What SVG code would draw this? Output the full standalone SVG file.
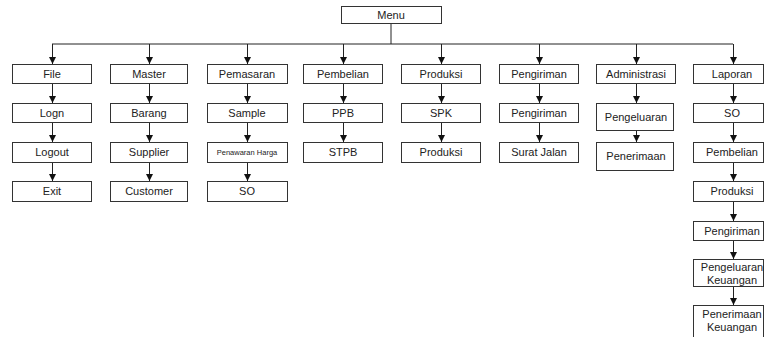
<svg xmlns="http://www.w3.org/2000/svg" width="765" height="337" viewBox="0 0 765 337">
<defs>
<marker id="ah" viewBox="0 0 8 8" refX="8" refY="4" markerWidth="7" markerHeight="7" orient="auto" markerUnits="userSpaceOnUse">
<path d="M0,0 L8,4 L0,8 Z" fill="#111"/>
</marker>
<style>
rect{fill:#fff;stroke:#333;stroke-width:1}
text{font-family:"Liberation Sans",Arial,sans-serif;font-size:11px;fill:#222;text-anchor:middle}
.sm{font-size:7.5px}
#connectors path{stroke:#222;stroke-width:1;fill:none}
.a{marker-end:url(#ah)}
</style>
</defs>
<rect x="0" y="0" width="765" height="337" style="fill:#fff;stroke:none"/>
<g id="connectors">
<path d="M391,24V44"/>
<path d="M52,44H733"/>
<path class="a" d="M52.5,44V64"/><path class="a" d="M149.5,44V64"/><path class="a" d="M247.5,44V64"/><path class="a" d="M343.5,44V64"/>
<path class="a" d="M441.5,44V64"/><path class="a" d="M539.5,44V64"/><path class="a" d="M636.5,44V64"/><path class="a" d="M733.5,44V64"/>
<path class="a" d="M52.5,83V103"/><path class="a" d="M52.5,123V142"/><path class="a" d="M52.5,162V181"/>
<path class="a" d="M149.5,83V103"/><path class="a" d="M149.5,123V142"/><path class="a" d="M149.5,162V181"/>
<path class="a" d="M247.5,83V103"/><path class="a" d="M247.5,123V142"/><path class="a" d="M247.5,162V181"/>
<path class="a" d="M343.5,83V103"/><path class="a" d="M343.5,123V142"/>
<path class="a" d="M441.5,83V103"/><path class="a" d="M441.5,123V142"/>
<path class="a" d="M539.5,83V103"/><path class="a" d="M539.5,123V142"/>
<path class="a" d="M636.5,83V103"/><path class="a" d="M636.5,130V142"/>
<path class="a" d="M733.5,83V103"/><path class="a" d="M733.5,123V142"/><path class="a" d="M733.5,162V181"/><path class="a" d="M733.5,201V221"/><path class="a" d="M733.5,240V259"/><path class="a" d="M733.5,286V305"/>
</g>
<g id="menu"><rect x="341.5" y="6.5" width="100" height="17"/><text x="391" y="19">Menu</text></g>
<g id="file"><rect x="12.5" y="64.5" width="79" height="19"/><text x="52" y="78">File</text></g>
<g id="logn"><rect x="12.5" y="103.5" width="79" height="19"/><text x="52" y="117">Logn</text></g>
<g id="logout"><rect x="12.5" y="142.5" width="79" height="20"/><text x="52" y="156">Logout</text></g>
<g id="exit"><rect x="12.5" y="181.5" width="79" height="20"/><text x="52" y="195">Exit</text></g>
<g id="master"><rect x="110.5" y="64.5" width="77" height="19"/><text x="149" y="78">Master</text></g>
<g id="barang"><rect x="110.5" y="103.5" width="77" height="19"/><text x="149" y="117">Barang</text></g>
<g id="supplier"><rect x="110.5" y="142.5" width="77" height="20"/><text x="149" y="156">Supplier</text></g>
<g id="customer"><rect x="110.5" y="181.5" width="77" height="20"/><text x="149" y="195">Customer</text></g>
<g id="pemasaran"><rect x="207.5" y="64.5" width="80" height="19"/><text x="247" y="78">Pemasaran</text></g>
<g id="sample"><rect x="207.5" y="103.5" width="80" height="19"/><text x="247" y="117">Sample</text></g>
<g id="penawaran"><rect x="207.5" y="142.5" width="80" height="20"/><text class="sm" x="247" y="155">Penawaran Harga</text></g>
<g id="so1"><rect x="207.5" y="181.5" width="80" height="20"/><text x="247" y="195">SO</text></g>
<g id="pembelian"><rect x="303.5" y="64.5" width="79" height="19"/><text x="343" y="78">Pembelian</text></g>
<g id="ppb"><rect x="303.5" y="103.5" width="79" height="19"/><text x="343" y="117">PPB</text></g>
<g id="stpb"><rect x="303.5" y="142.5" width="79" height="20"/><text x="343" y="156">STPB</text></g>
<g id="produksi"><rect x="401.5" y="64.5" width="79" height="19"/><text x="441" y="78">Produksi</text></g>
<g id="spk"><rect x="401.5" y="103.5" width="79" height="19"/><text x="441" y="117">SPK</text></g>
<g id="produksi2"><rect x="401.5" y="142.5" width="79" height="20"/><text x="441" y="156">Produksi</text></g>
<g id="pengiriman"><rect x="499.5" y="64.5" width="79" height="19"/><text x="539" y="78">Pengiriman</text></g>
<g id="pengiriman2"><rect x="499.5" y="103.5" width="79" height="19"/><text x="539" y="117">Pengiriman</text></g>
<g id="suratjalan"><rect x="499.5" y="142.5" width="79" height="20"/><text x="539" y="156">Surat Jalan</text></g>
<g id="administrasi"><rect x="596.5" y="64.5" width="79" height="19"/><text x="636" y="78">Administrasi</text></g>
<g id="pengeluaran"><rect x="596.5" y="103.5" width="77" height="27"/><text x="636" y="121">Pengeluaran</text></g>
<g id="penerimaan"><rect x="596.5" y="142.5" width="77" height="28"/><text x="636" y="160">Penerimaan</text></g>
<g id="laporan"><rect x="693.5" y="64.5" width="70" height="19"/><text x="732" y="78">Laporan</text></g>
<g id="so2"><rect x="693.5" y="103.5" width="70" height="19"/><text x="732" y="117">SO</text></g>
<g id="lpembelian"><rect x="693.5" y="142.5" width="70" height="20"/><text x="732" y="156">Pembelian</text></g>
<g id="lproduksi"><rect x="693.5" y="181.5" width="70" height="20"/><text x="732" y="195">Produksi</text></g>
<g id="lpengiriman"><rect x="693.5" y="221.5" width="70" height="19"/><text x="732" y="235">Pengiriman</text></g>
<g id="lpengeluaran"><rect x="693.5" y="259.5" width="70" height="27"/><text x="732" y="271">Pengeluaran</text><text x="732" y="284">Keuangan</text></g>
<g id="lpenerimaan"><rect x="693.5" y="305.5" width="70" height="36"/><text x="732" y="318">Penerimaan</text><text x="732" y="331">Keuangan</text></g>
</svg>
